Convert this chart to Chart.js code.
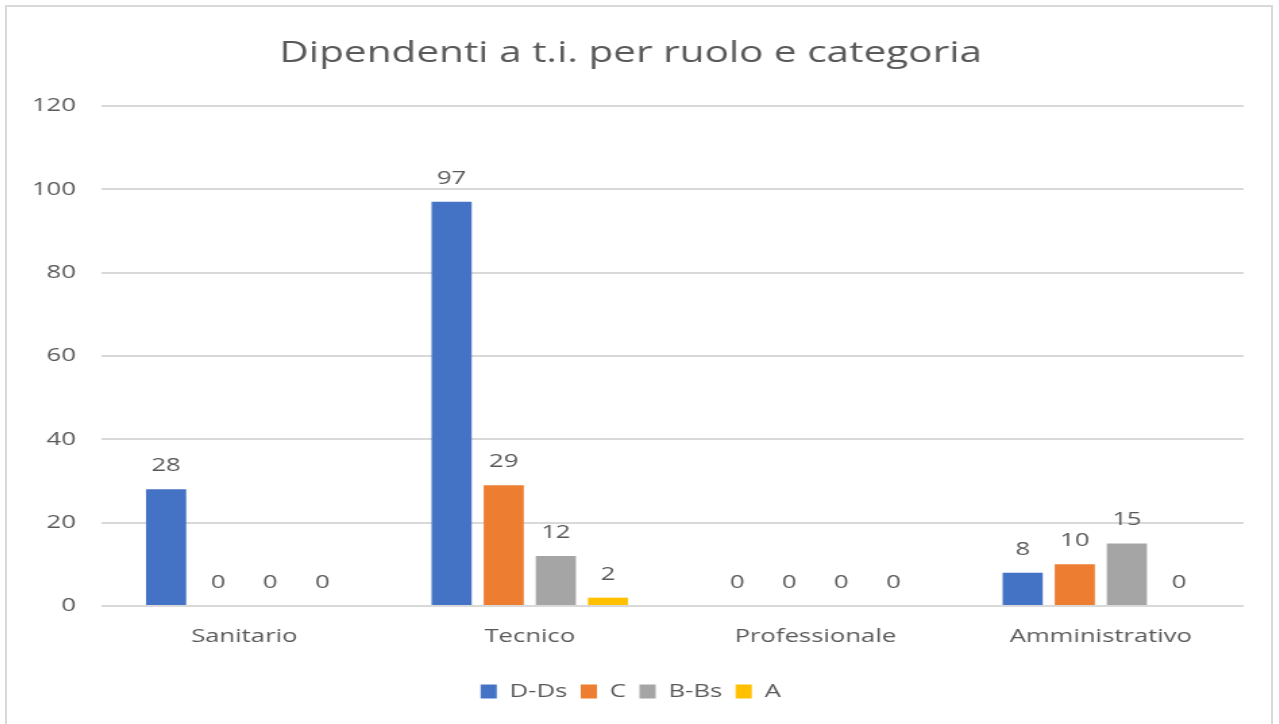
<!DOCTYPE html>
<html>
<head>
<meta charset="utf-8">
<script src="https://cdn.jsdelivr.net/npm/chart.js@4.4.0/dist/chart.umd.min.js"></script>
<style>
    body { margin: 0; background: #fff; }
    #wrap {
        position: absolute; left: 5px; top: 5px;
        width: 1268px; height: 730px;
        border: 2px solid #d9d9d9; box-sizing: border-box;
        background: #fff; overflow: hidden;
    }
    /* the reference picture is stretched sideways, so the canvas is too */
    canvas { display: block; transform-origin: 0 0; transform: scaleX(1.35); }
</style>
</head>
<body>
<div id="wrap"><canvas id="chart" width="936" height="715"></canvas></div>
<script>
// data
const categories = ["Sanitario", "Tecnico", "Professionale", "Amministrativo"];
const seriesNames = ["D-Ds", "C", "B-Bs", "A"];
const valuesDDs = [28, 97, 0, 8];
const valuesC = [0, 29, 0, 10];
const valuesBBs = [0, 12, 0, 15];
const valuesA = [0, 2, 0, 0];
const yTicks = [0, 20, 40, 60, 80, 100, 120];

const colors = ["#4472C4", "#ED7D31", "#A5A5A5", "#FFC000"];
const fontFamily = "'Open Sans', 'Noto Sans', sans-serif";
const textColor = "#595959";

// draws the value above every bar (Excel style data labels)
const barLabels = {
    id: "barLabels",
    afterDatasetsDraw(chart) {
        let ctx = chart.ctx;
        ctx.save();
        ctx.fillStyle = textColor;
        ctx.font = "19px " + fontFamily;
        ctx.textAlign = "center";
        ctx.textBaseline = "bottom";
        chart.data.datasets.forEach((ds, i) => {
            chart.getDatasetMeta(i).data.forEach((bar, j) => {
                ctx.fillText(ds.data[j], bar.x, bar.y - 14);
            });
        });
        ctx.restore();
    }
};

let ctx = document.getElementById("chart").getContext("2d");
let allSeries = [valuesDDs, valuesC, valuesBBs, valuesA];

new Chart(ctx, {
    type: "bar",
    data: {
        labels: categories,
        datasets: seriesNames.map((name, i) => ({
            label: name,
            data: allSeries[i],
            backgroundColor: colors[i],
            borderWidth: 0,
            categoryPercentage: 0.73,
            barPercentage: 0.77
        }))
    },
    options: {
        responsive: false,
        animation: false,
        layout: { padding: { left: 8, right: 20, top: 24, bottom: 11 } },
        plugins: {
            title: {
                display: true,
                text: "Dipendenti a t.i. per ruolo e categoria",
                color: textColor,
                font: { family: fontFamily, size: 30, weight: "normal" },
                padding: { top: 4, bottom: 35 }
            },
            legend: {
                position: "bottom",
                labels: {
                    color: textColor,
                    font: { family: fontFamily, size: 19 },
                    boxWidth: 12,
                    boxHeight: 14,
                    padding: 10
                }
            },
            tooltip: { enabled: false }
        },
        scales: {
            x: {
                grid: { display: false },
                border: { display: false },
                afterFit: axis => { axis.height = 66; },
                ticks: {
                    color: textColor,
                    font: { family: fontFamily, size: 19 },
                    maxRotation: 0,
                    padding: 11
                }
            },
            y: {
                min: 0,
                max: 120,
                afterBuildTicks: axis => { axis.ticks = yTicks.map(v => ({ value: v })); },
                afterFit: axis => { axis.width = 62; },
                grid: { color: "#d9d9d9", lineWidth: 2, drawTicks: false },
                border: { display: false },
                ticks: {
                    color: textColor,
                    font: { family: fontFamily, size: 19 },
                    padding: 19
                }
            }
        }
    },
    plugins: [barLabels]
});
</script>
</body>
</html>
